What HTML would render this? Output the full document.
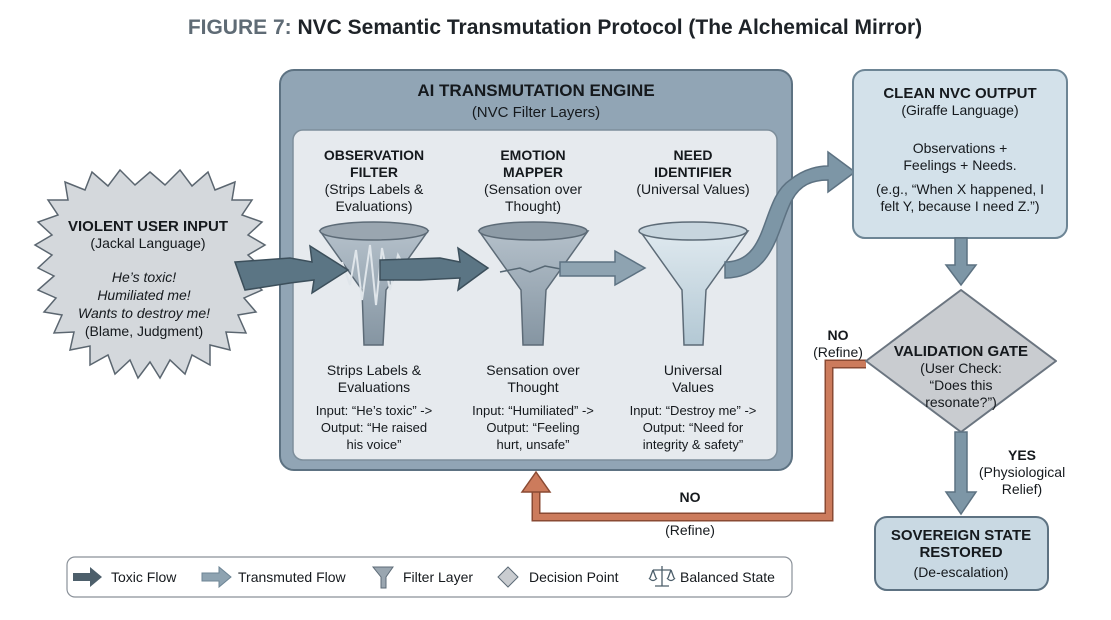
<!DOCTYPE html>
<html><head><meta charset="utf-8"><style>
body{margin:0;background:#fff;}
svg{display:block;font-family:"Liberation Sans",sans-serif;}
.b{font-weight:bold;}
</style></head><body>
<svg width="1111" height="620" viewBox="0 0 1111 620" xmlns="http://www.w3.org/2000/svg">
<defs>
<linearGradient id="fun" x1="0" y1="0" x2="0" y2="1"><stop offset="0" stop-color="#b4c0ca"/><stop offset="1" stop-color="#8595a2"/></linearGradient>
<linearGradient id="fun3" x1="0" y1="0" x2="0" y2="1"><stop offset="0" stop-color="#dfe9ef"/><stop offset="1" stop-color="#b3c8d4"/></linearGradient>
</defs>
<text x="555" y="34" text-anchor="middle" font-size="21" class="b" fill="#1e2328"><tspan fill="#5f6b75">FIGURE 7:</tspan> NVC Semantic Transmutation Protocol (The Alchemical Mirror)</text>

<!-- engine -->
<rect x="280" y="70" width="512" height="400" rx="14" fill="#91a5b5" stroke="#5d7282" stroke-width="2"/>
<text x="536" y="96" text-anchor="middle" font-size="17" class="b" fill="#15191d">AI TRANSMUTATION ENGINE</text>
<text x="536" y="117" text-anchor="middle" font-size="15" fill="#15191d">(NVC Filter Layers)</text>
<rect x="293" y="130" width="484" height="330" rx="10" fill="#e6eaee" stroke="#7d8e9b" stroke-width="1.5"/>

<g font-size="14" fill="#15191d" text-anchor="middle">
<text x="374" y="160" class="b">OBSERVATION</text><text x="374" y="177" class="b">FILTER</text>
<text x="374" y="194">(Strips Labels &amp;</text><text x="374" y="211">Evaluations)</text>
<text x="533" y="160" class="b">EMOTION</text><text x="533" y="177" class="b">MAPPER</text>
<text x="533" y="194">(Sensation over</text><text x="533" y="211">Thought)</text>
<text x="693" y="160" class="b">NEED</text><text x="693" y="177" class="b">IDENTIFIER</text>
<text x="693" y="194">(Universal Values)</text>
<text x="374" y="375">Strips Labels &amp;</text><text x="374" y="392">Evaluations</text>
<text x="533" y="375">Sensation over</text><text x="533" y="392">Thought</text>
<text x="693" y="375">Universal</text><text x="693" y="392">Values</text>
</g>
<g font-size="13" fill="#15191d" text-anchor="middle">
<text x="374" y="415">Input: “He’s toxic” -&gt;</text><text x="374" y="432">Output: “He raised</text><text x="374" y="449">his voice”</text>
<text x="533" y="415">Input: “Humiliated” -&gt;</text><text x="533" y="432">Output: “Feeling</text><text x="533" y="449">hurt, unsafe”</text>
<text x="693" y="415">Input: “Destroy me” -&gt;</text><text x="693" y="432">Output: “Need for</text><text x="693" y="449">integrity &amp; safety”</text>
</g>

<!-- funnels -->
<g stroke="#5d6b77" stroke-width="1.5">
<path d="M320 231 L362 290 L364 345 L383 345 L386 290 L428 231 Z" fill="url(#fun)"/>
<ellipse cx="374" cy="231" rx="54" ry="9" fill="#9aa6b0"/>
<path d="M342 262 L350 285 L356 250 L362 300 L370 245 L376 305 L382 248 L390 290 L398 255 L406 270" fill="none" stroke="#dfe5ea" stroke-width="2"/>
<path d="M479 231 L521 290 L523 345 L543 345 L546 290 L588 231 Z" fill="url(#fun)"/>
<ellipse cx="533" cy="231" rx="54" ry="9" fill="#8d9ba6"/>
<path d="M500 272 L520 268 L530 272 L545 266 L566 270" fill="none" stroke="#566773"/>
<path d="M640 231 L682 290 L684 345 L703 345 L706 290 L748 231 Z" fill="url(#fun3)"/>
<ellipse cx="693" cy="231" rx="54" ry="9" fill="#c7d5de"/>
</g>

<!-- starburst -->
<polygon fill="#d4d8dc" stroke="#5b6670" stroke-width="1.5" points="
150,172 165,185 180,170 192,186 208,172 215,190 235,182 232,200 252,200 242,215 262,222 248,235 265,245 248,255 262,268 246,275 262,290 244,298 256,312 238,315 246,333 226,332 230,350 210,345 210,365 192,355 185,374 170,360 160,378 150,362 138,378 130,360 115,374 108,355 90,365 90,346 70,350 74,332 54,333 62,315 44,312 56,298 38,290 54,276 38,268 52,255 35,245 52,235 38,222 58,215 48,200 68,200 65,182 85,190 92,172 108,186 120,170 135,185"/>
<g text-anchor="middle" fill="#15191d">
<text x="148" y="231" font-size="15" class="b">VIOLENT USER INPUT</text>
<text x="148" y="248" font-size="14">(Jackal Language)</text>
<g font-style="italic" font-size="14"><text x="144" y="282">He’s toxic!</text><text x="144" y="300">Humiliated me!</text><text x="144" y="318">Wants to destroy me!</text></g>
<text x="144" y="336" font-size="14">(Blame, Judgment)</text>
</g>

<!-- toxic arrows -->
<path d="M235 262 L290 258 L312 262 L310 246 L348 270 L312 293 L314 280 L290 283 L245 290 Z" fill="#5b7584" stroke="#3c4f5b" stroke-width="1.5"/>
<path d="M380 260 L440 258 L460 262 L458 248 L488 268 L458 290 L460 278 L420 280 L380 280 Z" fill="#5b7584" stroke="#3c4f5b" stroke-width="1.5"/>
<path d="M560 262 L615 262 L615 251 L645 268 L615 285 L615 276 L560 276 Z" fill="#8ea3b1" stroke="#5d7282" stroke-width="1.5"/>
<!-- curved flow to output -->
<path d="M725 262 C770 262 760 200 790 180 C805 168 820 166 828 166 L828 152 L855 172 L828 192 L828 180 C812 180 800 185 792 200 C778 225 775 278 725 278 Z" fill="#7d96a6" stroke="#5d7282" stroke-width="1.5"/>

<!-- clean output box -->
<rect x="853" y="70" width="214" height="168" rx="12" fill="#d3e1ea" stroke="#6d8595" stroke-width="2"/>
<g text-anchor="middle" fill="#15191d">
<text x="960" y="98" font-size="15" class="b">CLEAN NVC OUTPUT</text>
<text x="960" y="115" font-size="14">(Giraffe Language)</text>
<text x="960" y="153" font-size="14">Observations +</text>
<text x="960" y="170" font-size="14">Feelings + Needs.</text>
<text x="960" y="194" font-size="14">(e.g., “When X happened, I</text>
<text x="960" y="211" font-size="14">felt Y, because I need Z.”)</text>
</g>
<path d="M955 238 L967 238 L967 265 L976 265 L961 285 L946 265 L955 265 Z" fill="#7d96a6" stroke="#5d7282" stroke-width="1.5"/>

<!-- orange refine path -->
<path d="M866 364 L829 364 L829 517 L536 517 L536 490" fill="none" stroke="#8a4a33" stroke-width="9"/>
<path d="M866 364 L829 364 L829 517 L536 517 L536 490" fill="none" stroke="#cc7b5c" stroke-width="6"/>
<path d="M522 492 L536 472 L550 492 Z" fill="#cc7b5c" stroke="#8a4a33" stroke-width="1.5"/>

<!-- diamond -->
<path d="M961 290 L1056 361 L961 432 L866 361 Z" fill="#c9ccd0" stroke="#6b7580" stroke-width="2" stroke-linejoin="round"/>
<g text-anchor="middle" fill="#15191d">
<text x="961" y="356" font-size="15" class="b">VALIDATION GATE</text>
<text x="961" y="373" font-size="14">(User Check:</text>
<text x="961" y="390" font-size="14">“Does this</text>
<text x="961" y="407" font-size="14">resonate?”)</text>
<text x="838" y="340" font-size="14" class="b">NO</text>
<text x="838" y="357" font-size="14">(Refine)</text>
<text x="690" y="502" font-size="14" class="b">NO</text>
<text x="690" y="535" font-size="14">(Refine)</text>
<text x="1022" y="460" font-size="14" class="b">YES</text>
<text x="1022" y="477" font-size="14">(Physiological</text>
<text x="1022" y="494" font-size="14">Relief)</text>
</g>
<path d="M955 432 L967 432 L967 492 L976 492 L961 514 L946 492 L955 492 Z" fill="#7d96a6" stroke="#5d7282" stroke-width="1.5"/>

<rect x="875" y="517" width="173" height="73" rx="12" fill="#c9d9e3" stroke="#5d7282" stroke-width="2"/>
<g text-anchor="middle" fill="#15191d">
<text x="961" y="540" font-size="15" class="b">SOVEREIGN STATE</text>
<text x="961" y="557" font-size="15" class="b">RESTORED</text>
<text x="961" y="577" font-size="14">(De-escalation)</text>
</g>

<!-- legend -->
<rect x="67" y="557" width="725" height="40" rx="8" fill="#fff" stroke="#8a9199" stroke-width="1.2"/>
<g font-size="14" fill="#15191d">
<path d="M73 573 L90 573 L90 567 L102 577 L90 587 L90 581 L73 581 Z" fill="#4d5f6b"/>
<text x="111" y="582">Toxic Flow</text>
<path d="M202 573 L219 573 L219 567 L231 577 L219 587 L219 581 L202 581 Z" fill="#8ea3b1" stroke="#6d8595"/>
<text x="238" y="582">Transmuted Flow</text>
<path d="M373 567 L393 567 L386 577 L386 588 L381 588 L381 577 Z" fill="#9aa6b0" stroke="#5d6b77"/>
<text x="403" y="582">Filter Layer</text>
<path d="M508 567 L518 577 L508 587 L498 577 Z" fill="#c9ccd0" stroke="#5d6b77"/>
<text x="529" y="582">Decision Point</text>
<g stroke="#4d5f6b" fill="none" stroke-width="1.3"><path d="M662 566 L662 586 M655 586 L669 586 M653 570 L671 570 M653 570 L650 578 M653 570 L656 578 M671 570 L668 578 M671 570 L674 578 M649 578 Q653 583 657 578 M667 578 Q671 583 675 578"/></g>
<text x="680" y="582">Balanced State</text>
</g>
</svg>
</body></html>
